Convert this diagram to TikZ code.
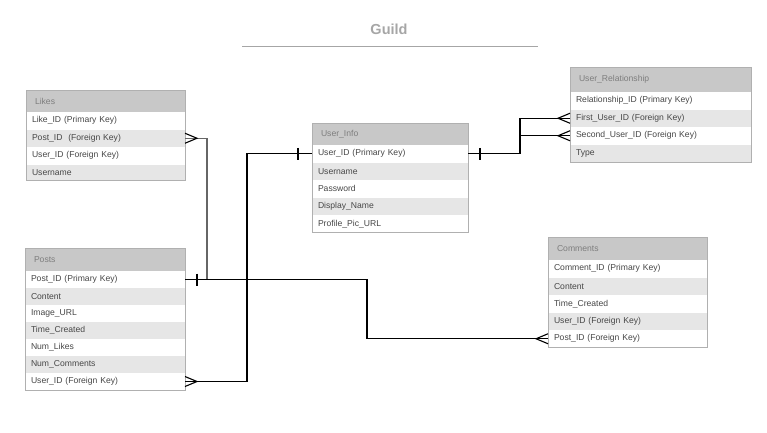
\documentclass[tikz,border=0pt]{standalone}
\usepackage{fontspec}
\setmainfont{Liberation Sans}
\usetikzlibrary{positioning}

\definecolor{headgray}{HTML}{C8C8C8}
\definecolor{shadegray}{HTML}{E6E6E6}
\definecolor{framegray}{HTML}{B0B0B0}
\definecolor{textgray}{HTML}{474747}
\definecolor{titlegray}{HTML}{A6A6A6}

\tikzset{
  tblhead/.style={fill=headgray, text=textgray!70, anchor=north west,
    minimum height=23pt, inner xsep=9pt, inner ysep=0pt, outer sep=0pt, font=\fontsize{8.6}{10}\selectfont},
  rowlight/.style={fill=white, text=textgray, minimum height=17.5pt,
    inner xsep=6pt, inner ysep=0pt, outer sep=0pt, font=\fontsize{8.6}{10}\selectfont},
  rowshade/.style={rowlight, fill=shadegray},
  frame/.style={draw=framegray, line width=0.9pt},
  link/.style={black, line width=1.1pt},
}

% crow's foot and bar marks
\newcommand{\crowr}[1]{\draw[link] ([yshift=5pt]#1) -- ([xshift=12pt]#1) -- ([yshift=-5pt]#1);}
\newcommand{\crowl}[1]{\draw[link] ([yshift=5pt]#1) -- ([xshift=-12pt]#1) -- ([yshift=-5pt]#1);}
\newcommand{\onebar}[2]{\draw[link] ([xshift=#2,yshift=6pt]#1) -- ([xshift=#2,yshift=-6pt]#1);}

\begin{document}
\begin{tikzpicture}[x=1pt, y=-1pt]
  \useasboundingbox (0,0) rectangle (767,432);

  \node[font=\bfseries\fontsize{14.5}{16}\selectfont, text=titlegray] (title) at (389,29) {Guild};
  \draw[titlegray, line width=0.9pt] (242,46) -- (538,46);

  % Likes
  \begin{scope}[every node/.append style={text width=147pt}]
  \node[tblhead, text width=141pt, minimum height=22pt] (likes) at (26,90) {Likes};
  \node[rowlight, below=0pt of likes]      (likes-id)   {Like\_ID (Primary Key)};
  \node[rowshade, below=0pt of likes-id]   (likes-post) {Post\_ID \ (Foreign Key)};
  \node[rowlight, below=0pt of likes-post] (likes-user) {User\_ID (Foreign Key)};
  \node[rowshade, below=0pt of likes-user, minimum height=16pt] (likes-name) {Username};
  \end{scope}
  \draw[frame] (likes.north west) rectangle (likes-name.south east);

  % Posts
  \begin{scope}[every node/.append style={text width=148pt}, rowlight/.append style={minimum height=17pt}]
  \node[tblhead, text width=142pt] (posts) at (25,248) {Posts};
  \node[rowlight, below=0pt of posts]       (posts-post)  {Post\_ID (Primary Key)};
  \node[rowshade, below=0pt of posts-post]  (posts-cont)  {Content};
  \node[rowlight, below=0pt of posts-cont]  (posts-img)   {Image\_URL};
  \node[rowshade, below=0pt of posts-img]   (posts-time)  {Time\_Created};
  \node[rowlight, below=0pt of posts-time]  (posts-likes) {Num\_Likes};
  \node[rowshade, below=0pt of posts-likes] (posts-comm)  {Num\_Comments};
  \node[rowlight, below=0pt of posts-comm]  (posts-user)  {User\_ID (Foreign Key)};
  \end{scope}
  \draw[frame] (posts.north west) rectangle (posts-user.south east);

  % User_Info
  \begin{scope}[every node/.append style={text width=144pt}]
  \node[tblhead, text width=138pt, minimum height=22pt] (ui) at (312,123) {User\_Info};
  \node[rowlight, below=0pt of ui]       (ui-user) {User\_ID (Primary Key)};
  \node[rowshade, below=0pt of ui-user]  (ui-name) {Username};
  \node[rowlight, below=0pt of ui-name]  (ui-pass) {Password};
  \node[rowshade, below=0pt of ui-pass]  (ui-disp) {Display\_Name};
  \node[rowlight, below=0pt of ui-disp]  (ui-pic)  {Profile\_Pic\_URL};
  \end{scope}
  \draw[frame] (ui.north west) rectangle (ui-pic.south east);

  % User_Relationship
  \begin{scope}[every node/.append style={text width=169pt}]
  \node[tblhead, text width=163pt, minimum height=25pt] (ur) at (570,67) {User\_Relationship};
  \node[rowlight, below=0pt of ur]        (ur-id)     {Relationship\_ID (Primary Key)};
  \node[rowshade, below=0pt of ur-id]     (ur-first)  {First\_User\_ID (Foreign Key)};
  \node[rowlight, below=0pt of ur-first]  (ur-second) {Second\_User\_ID (Foreign Key)};
  \node[rowshade, below=0pt of ur-second] (ur-type)   {Type};
  \end{scope}
  \draw[frame] (ur.north west) rectangle (ur-type.south east);

  % Comments
  \begin{scope}[every node/.append style={text width=147pt}]
  \node[tblhead, text width=141pt] (com) at (548,237) {Comments};
  \node[rowlight, below=0pt of com]      (com-id)   {Comment\_ID (Primary Key)};
  \node[rowshade, below=0pt of com-id]   (com-cont) {Content};
  \node[rowlight, below=0pt of com-cont] (com-time) {Time\_Created};
  \node[rowshade, below=0pt of com-time] (com-user) {User\_ID (Foreign Key)};
  \node[rowlight, below=0pt of com-user] (com-post) {Post\_ID (Foreign Key)};
  \end{scope}
  \draw[frame] (com.north west) rectangle (com-post.south east);

  % connectors
  \draw[black!60, line width=1.4pt] (likes-post.east) -- ++(22,0) |- (posts-post.east);
  \draw[link] (posts-post.east) -- ++(182,0) |- (com-post.west);
  \draw[link] (posts-user.east) -- ++(62,0) |- (ui-user.west);
  \draw[link] (ui-user.east) -- ++(52,0) |- (ur-first.west);
  \draw[link] (ui-user.east) -- ++(52,0) |- (ur-second.west);

  \crowr{likes-post.east}
  \onebar{posts-post.east}{12pt}
  \crowl{com-post.west}
  \crowr{posts-user.east}
  \onebar{ui-user.west}{-14pt}
  \onebar{ui-user.east}{12pt}
  \crowl{ur-first.west}
  \crowl{ur-second.west}
\end{tikzpicture}
\end{document}
